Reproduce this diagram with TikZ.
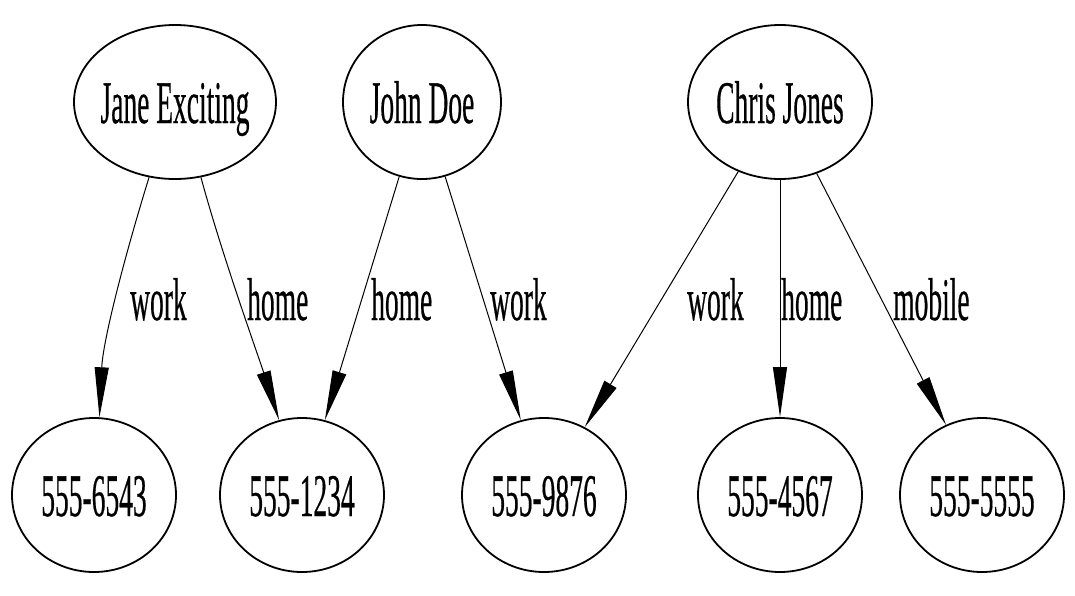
\documentclass[tikz,border=0pt]{standalone}
\usepackage{fontspec}
\setmainfont{Liberation Serif}[FakeBold=0.6]
\newfontfamily\heavyserif{Liberation Serif}[FakeBold=0.6]
\usetikzlibrary{shapes.geometric,arrows.meta}
\newcommand\vtxt[1]{\makebox[0pt]{\scalebox{1}[2.2]{#1}}}
\newcommand\ltxt[1]{\scalebox{1}[2.2]{#1}}
\begin{document}
\begin{tikzpicture}[x=1pt,y=-1pt,
  vtx/.style={draw,ellipse,line width=1.8pt,inner sep=0pt,minimum height=154pt,
    text height=42pt,text depth=0pt,font=\heavyserif\fontsize{27.5}{30}\selectfont},
  lbl/.style={inner sep=0pt,anchor=base west,font=\heavyserif\fontsize{27.5}{30}\selectfont},
  edge/.style={line width=1pt,-{Triangle[length=50pt,width=14pt]}}]
\useasboundingbox[fill=white] (0,0) rectangle (1075,595);
% people
\node[vtx,minimum width=202pt] (jane) at (175,102) {\vtxt{Jane Exciting}};
\node[vtx,minimum width=158pt] (john) at (422,102) {\vtxt{John Doe}};
\node[vtx,minimum width=184pt] (chris) at (780,102) {\vtxt{Chris Jones}};
% numbers
\node[vtx,minimum width=164pt] (p6543) at (94,495) {\vtxt{555-6543}};
\node[vtx,minimum width=164pt] (p1234) at (302,495) {\vtxt{555-1234}};
\node[vtx,minimum width=164pt] (p9876) at (544,495) {\vtxt{555-9876}};
\node[vtx,minimum width=164pt] (p4567) at (780,495) {\vtxt{555-4567}};
\node[vtx,minimum width=164pt] (p5555) at (982,495) {\vtxt{555-5555}};
% edges
\draw[edge] (jane.-109) .. controls (125,255) and (103,340) .. (p6543.86);
\draw[edge] (jane.-71) .. controls (222,255) and (258,355) .. (p1234.107);
\draw[edge] (john) -- (p1234);
\draw[edge] (john) -- (p9876);
\draw[edge] (chris) -- (p9876);
\draw[edge] (chris) -- (p4567);
\draw[edge] (chris) -- (p5555);
% labels
\node[lbl] (l1) at (130,320) {\ltxt{work}};
\node[lbl] (l2) at (247,320) {\ltxt{home}};
\node[lbl] (l3) at (371,320) {\ltxt{home}};
\node[lbl] (l4) at (490,320) {\ltxt{work}};
\node[lbl] (l5) at (687,320) {\ltxt{work}};
\node[lbl] (l6) at (781,320) {\ltxt{home}};
\node[lbl] (l7) at (893,320) {\ltxt{mobile}};
\end{tikzpicture}
\end{document}
